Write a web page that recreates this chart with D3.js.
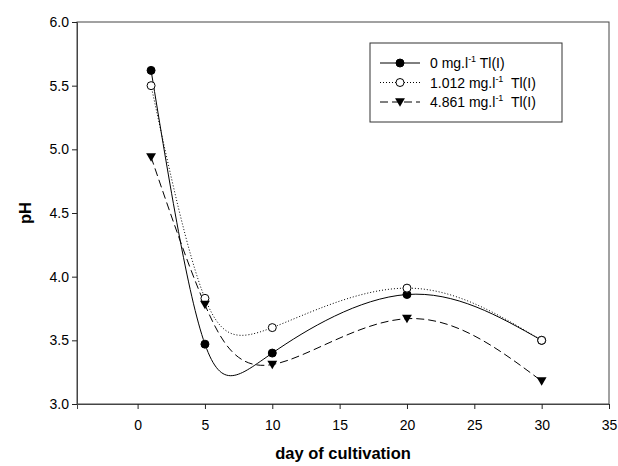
<!DOCTYPE html>
<html>
<head>
<meta charset="utf-8">
<script src="https://cdn.jsdelivr.net/npm/d3@7"></script>
<style>
  body { margin: 0; background: #fff; }
  text { font-family: "Liberation Sans", Arial, sans-serif; }
</style>
</head>
<body>
<div id="chart"></div>
<script>
// data
var days = [1, 5, 10, 20, 30];
var ph0 = [5.62, 3.47, 3.40, 3.86, 3.50];
var ph1 = [5.50, 3.83, 3.60, 3.91, 3.50];
var ph2 = [4.94, 3.78, 3.31, 3.67, 3.18];
var seriesNames = ["0 mg.l", "1.012 mg.l", "4.861 mg.l"];
var seriesSuffix = [" Tl(I)", "  Tl(I)", "  Tl(I)"];
var xTicks = [0, 5, 10, 15, 20, 25, 30, 35];
var yTicks = [3.0, 3.5, 4.0, 4.5, 5.0, 5.5, 6.0];

var svgWidth = 618;
var svgHeight = 466;
var margin = { top: 22, right: 9, bottom: 62, left: 77 };
var width = svgWidth - margin.left - margin.right;
var height = svgHeight - margin.top - margin.bottom;

var svg = d3.select("#chart")
  .append("svg")
  .attr("width", svgWidth)
  .attr("height", svgHeight);

var chartGroup = svg.append("g")
  .attr("transform", `translate(${margin.left}, ${margin.top})`);

var xScale = d3.scaleLinear().domain([-4.5, 35]).range([0, width]);
var yScale = d3.scaleLinear().domain([3, 6]).range([height, 0]);

// frame
chartGroup.append("rect")
  .attr("width", width)
  .attr("height", height)
  .attr("fill", "none")
  .attr("stroke", "#444")
  .attr("stroke-width", 1);

var bottomAxis = d3.axisBottom(xScale)
  .tickValues(xTicks)
  .tickSize(5)
  .tickPadding(11)
  .tickFormat(d3.format("d"));
var leftAxis = d3.axisLeft(yScale)
  .tickValues(yTicks)
  .tickSize(5)
  .tickPadding(3)
  .tickFormat(d3.format(".1f"));

var xAxis = chartGroup.append("g")
  .attr("transform", `translate(0, ${height})`)
  .call(bottomAxis);
var yAxis = chartGroup.append("g").call(leftAxis);

[xAxis, yAxis].forEach(function (ax) {
  ax.select(".domain").attr("stroke", "#444");
  ax.selectAll(".tick line").attr("stroke", "#222");
  ax.selectAll("text")
    .attr("font-size", "14px")
    .attr("fill", "#000")
    .style("font-family", "'Liberation Sans', Arial, sans-serif");
});

// axis titles
svg.append("text")
  .attr("x", margin.left + width / 2)
  .attr("y", 459)
  .attr("text-anchor", "middle")
  .attr("font-weight", "bold")
  .attr("font-size", "16.5px")
  .text("day of cultivation");

svg.append("text")
  .attr("transform", `translate(31, ${margin.top + height / 2}) rotate(-90)`)
  .attr("text-anchor", "middle")
  .attr("font-weight", "bold")
  .attr("font-size", "16.5px")
  .text("pH");

// series
var series = [
  { values: ph0, dash: null, marker: "filled" },
  { values: ph1, dash: "1,2", marker: "open" },
  { values: ph2, dash: "8,4", marker: "tri" }
];

var line = d3.line()
  .x((d) => xScale(d[0]))
  .y((d) => yScale(d[1]))
  .curve(d3.curveNatural);

var triangle = d3.symbol().type(d3.symbolTriangle).size(42);

function drawMarker(g, type, x, y) {
  if (type === "tri") {
    g.append("path")
      .attr("d", triangle())
      .attr("transform", `translate(${x}, ${y - 1}) rotate(180)`)
      .attr("fill", "#000");
  } else {
    g.append("circle")
      .attr("cx", x)
      .attr("cy", y)
      .attr("r", 4)
      .attr("fill", type === "filled" ? "#000" : "#fff")
      .attr("stroke", "#000")
      .attr("stroke-width", 1);
  }
}

series.forEach(function (s) {
  var pts = days.map((d, i) => [d, s.values[i]]);
  chartGroup.append("path")
    .datum(pts)
    .attr("d", line)
    .attr("fill", "none")
    .attr("stroke", "#000")
    .attr("stroke-width", 1)
    .attr("stroke-dasharray", s.dash);
});

series.forEach(function (s) {
  days.forEach(function (d, i) {
    drawMarker(chartGroup, s.marker, xScale(d), yScale(s.values[i]));
  });
});

// legend
var legend = svg.append("g").attr("transform", "translate(370, 43)");
legend.append("rect")
  .attr("width", 192)
  .attr("height", 79)
  .attr("fill", "#fff")
  .attr("stroke", "#333")
  .attr("stroke-width", 1);

series.forEach(function (s, i) {
  var y = 20 + i * 19.5;
  legend.append("line")
    .attr("x1", 10)
    .attr("x2", 50)
    .attr("y1", y)
    .attr("y2", y)
    .attr("stroke", "#000")
    .attr("stroke-dasharray", s.dash);
  drawMarker(legend, s.marker, 30, y);
  var t = legend.append("text")
    .attr("x", 60)
    .attr("y", y + 5)
    .attr("font-size", "14px")
    .attr("xml:space", "preserve")
    .style("white-space", "pre");
  t.append("tspan").text(seriesNames[i]);
  t.append("tspan")
    .attr("font-size", "9px")
    .attr("dy", -6)
    .text("-1");
  t.append("tspan")
    .attr("dy", 6)
    .text(seriesSuffix[i]);
});
</script>
</body>
</html>
